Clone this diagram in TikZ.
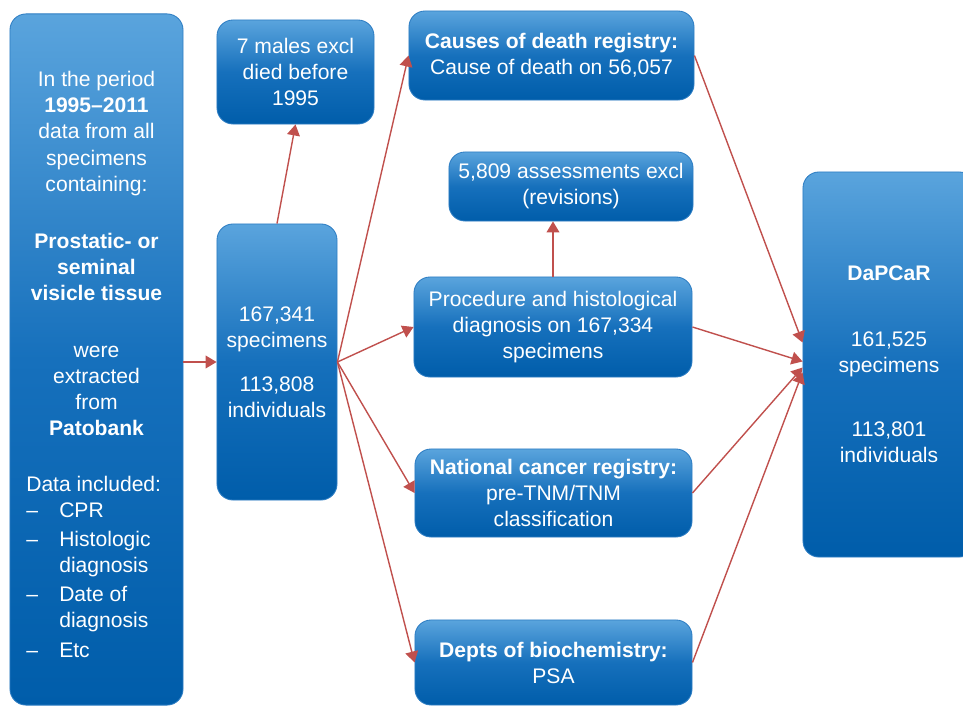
\documentclass[tikz,border=0pt]{standalone}
\usepackage{fontspec}
\setmainfont{Liberation Sans}
\usetikzlibrary{arrows.meta}
\definecolor{boxtop}{RGB}{90,164,221}
\definecolor{boxmid}{RGB}{22,112,188}
\definecolor{boxbot}{RGB}{0,93,170}
\definecolor{boxline}{RGB}{45,125,195}
\definecolor{arrred}{RGB}{192,80,77}
\begin{document}
\begin{tikzpicture}[x=0.025cm,y=-0.025cm,>={Triangle[length=0.275cm,width=0.32cm]},line join=round,
	font={\fontsize{15}{18.5}\selectfont},
	box/.style={draw=boxline,line width=0.6pt,rounded corners=0.4cm,top color=boxtop,bottom color=boxbot,middle color=boxmid,text=white,align=center,inner sep=0pt},
	txt/.style={text=white,inner sep=0pt},
	arr/.style={->,draw=arrred,line width=1pt}]
	\def\dash{\makebox[0.825cm][l]{\textendash}}
	\useasboundingbox (0,0) rectangle (963,706);
	\clip (0,0) rectangle (963,706);
	% khoi ben trai
	\node[box,minimum width=4.325cm,minimum height=17.275cm] (src) at (96.5,359.5) {};
	\node[txt,align=center] (srctext) at (96.5,253.5) {In the period\\ \textbf{1995--2011}\\ data from all\\ specimens\\ containing:\\[0.775cm]
		\textbf{Prostatic- or}\\ \textbf{seminal}\\ \textbf{visicle tissue}\\[0.775cm] were\\ extracted\\ from\\ \textbf{Patobank}};
	\node[txt,align=left,anchor=west] (srclist) at (26,567) {Data included:\\ \dash CPR\\[0.075cm] \dash Histologic\\ \hspace*{0.825cm}diagnosis\\[0.075cm]
		\dash Date of\\ \hspace*{0.825cm}diagnosis\\[0.12cm] \dash Etc};
	% cot giua
	\node[box,minimum width=3.925cm,minimum height=2.6cm] (males) at (295.5,72) {7 males excl\\ died before\\ 1995};
	\node[box,minimum width=3cm,minimum height=6.9cm] (mid) at (277,362) {167,341\\ specimens\\[0.45cm] 113,808\\ individuals};
	% cac nguon du lieu
	\node[box,minimum width=7.125cm,minimum height=2.225cm] (causes) at (551.5,55.5) {\textbf{Causes of death registry:}\\ Cause of death on 56,057};
	\node[box,minimum width=6.1cm,minimum height=1.725cm] (excl) at (571,186.5) {5,809 assessments excl\\ (revisions)};
	\node[box,minimum width=6.95cm,minimum height=2.5cm] (proc) at (553,327) {Procedure and histological\\ diagnosis on 167,334\\ specimens};
	\node[box,minimum width=6.925cm,minimum height=2.2cm] (ncr) at (553.5,493) {\textbf{National cancer registry:}\\ pre-TNM/TNM\\ classification};
	\node[box,minimum width=6.925cm,minimum height=2.125cm] (psa) at (553.5,662.5) {\textbf{Depts of biochemistry:}\\ PSA};
	% khoi ket qua
	\node[box,minimum width=4.3cm,minimum height=9.625cm] (dap) at (889,364.5) {\textbf{DaPCaR}\\[1cm] 161,525\\ specimens\\[0.95cm] 113,801\\ individuals};
	\coordinate (in1) at ([shift={(0,-22)}]dap.west);
	\coordinate (in2) at ([shift={(0,-3)}]dap.west);
	\coordinate (in3) at ([shift={(0,3)}]dap.west);
	\coordinate (in4) at ([shift={(0,8)}]dap.west);
	% ve cac mui ten
	\draw[arr] (src.east |- mid.west)--(mid.west);
	\draw[arr] (mid.north)--(males.south);
	\draw[arr] (mid.east)--(causes.west);
	\draw[arr] (mid.east)--(proc.west);
	\draw[arr] (mid.east)--(ncr.west);
	\draw[arr] (mid.east)--(psa.west);
	\draw[arr] (proc.north)--(proc.north |- excl.south);
	\draw[arr] (causes.east)--(in1);
	\draw[arr] (proc.east)--(in2);
	\draw[arr] (ncr.east)--(in3);
	\draw[arr] (psa.east)--(in4);
\end{tikzpicture}
\end{document}
